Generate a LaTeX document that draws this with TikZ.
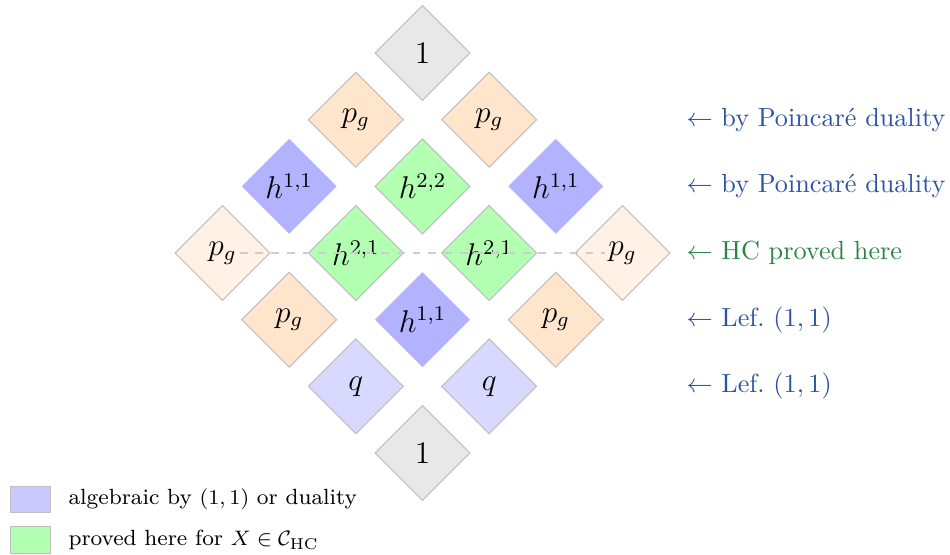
\documentclass[tikz,border=0pt]{standalone}
\usetikzlibrary{shapes.geometric}
\definecolor{lblue}{rgb}{0.17,0.32,0.64}
\definecolor{lgreen}{rgb}{0.16,0.52,0.27}
\begin{document}
\begin{tikzpicture}[x=0.3817pt,y=-0.3817pt,
  cell/.style={shape=diamond, aspect=1, minimum width=36.4pt, minimum height=36.4pt,
    inner sep=0pt, draw=black!25, line width=0.4pt},
  hcell/.style={cell, draw=none},
  txt/.style={inner sep=1pt, font=\large},
  lab/.style={anchor=west, inner sep=0pt, font=\normalsize},
  legbox/.style={draw=black!25, line width=0.4pt, minimum width=15.3pt, minimum height=10.1pt, inner sep=0pt},
  legtxt/.style={anchor=west, inner sep=0pt, font=\fontsize{8.4pt}{10pt}\selectfont},
  guide/.style={dashed, draw=black!20, line width=0.4pt}]
\useasboundingbox (0,0) rectangle (950,555);
% row 0
\node[cell, fill=black!9] (d00) at (422.5,53) {};
\node[txt] (t00) at (d00) {$1$};
% row 1
\node[cell, fill=orange!20] (d10) at (355.8,119.7) {};
\node[txt] (t10) at (d10) {$p_g$};
\node[cell, fill=orange!20] (d11) at (489.2,119.7) {};
\node[txt] (t11) at (d11) {$p_g$};
% row 2
\node[hcell, fill=blue!30] (d20) at (289.2,186.3) {};
\node[txt] (t20) at (d20) {$h^{1,1}$};
\node[cell, fill=green!30] (d21) at (422.5,186.3) {};
\node[txt] (t21) at (d21) {$h^{2,2}$};
\node[hcell, fill=blue!30] (d22) at (555.8,186.3) {};
\node[txt] (t22) at (d22) {$h^{1,1}$};
% row 3
\node[cell, fill=orange!10] (d30) at (222.5,253) {};
\node[txt] (t30) at (d30) {$p_g$};
\node[cell, fill=green!30] (d31) at (355.8,253) {};
\node[txt] (t31) at (d31) {$h^{2,1}$};
\node[cell, fill=green!30] (d32) at (489.2,253) {};
\node[txt] (t32) at (d32) {$h^{2,1}$};
\node[cell, fill=orange!10] (d33) at (622.5,253) {};
\node[txt] (t33) at (d33) {$p_g$};
% row 4
\node[cell, fill=orange!20] (d40) at (289.2,319.7) {};
\node[txt] (t40) at (d40) {$p_g$};
\node[hcell, fill=blue!30] (d41) at (422.5,319.7) {};
\node[txt] (t41) at (d41) {$h^{1,1}$};
\node[cell, fill=orange!20] (d42) at (555.8,319.7) {};
\node[txt] (t42) at (d42) {$p_g$};
% row 5
\node[cell, fill=blue!15] (d50) at (355.8,386.3) {};
\node[txt] (t50) at (d50) {$q$};
\node[cell, fill=blue!15] (d51) at (489.2,386.3) {};
\node[txt] (t51) at (d51) {$q$};
% row 6
\node[cell, fill=black!9] (d60) at (422.5,453) {};
\node[txt] (t60) at (d60) {$1$};
% dashed guide
\draw[guide] (t30) -- (t33);
% right labels
\node[lab, text=lblue] (r1) at (686,119.7) {$\leftarrow$ by Poincaré duality};
\node[lab, text=lblue] (r2) at (686,186.3) {$\leftarrow$ by Poincaré duality};
\node[lab, text=lgreen] (r3) at (686,253) {$\leftarrow$ HC proved here};
\node[lab, text=lblue] (r4) at (686,319.7) {$\leftarrow$ Lef.\ $(1,1)$};
\node[lab, text=lblue] (r5) at (686,386.3) {$\leftarrow$ Lef.\ $(1,1)$};
% legend
\node[legbox, fill=blue!21] (lb1) at (30.3,499.7) {};
\node[legtxt] (lt1) at (68,499.7) {algebraic by $(1,1)$ or duality};
\node[legbox, fill=green!30] (lb2) at (30.3,540) {};
\node[legtxt] (lt2) at (68,540) {proved here for $X\in\mathcal{C}_{\mathrm{HC}}$};
\end{tikzpicture}
\end{document}
